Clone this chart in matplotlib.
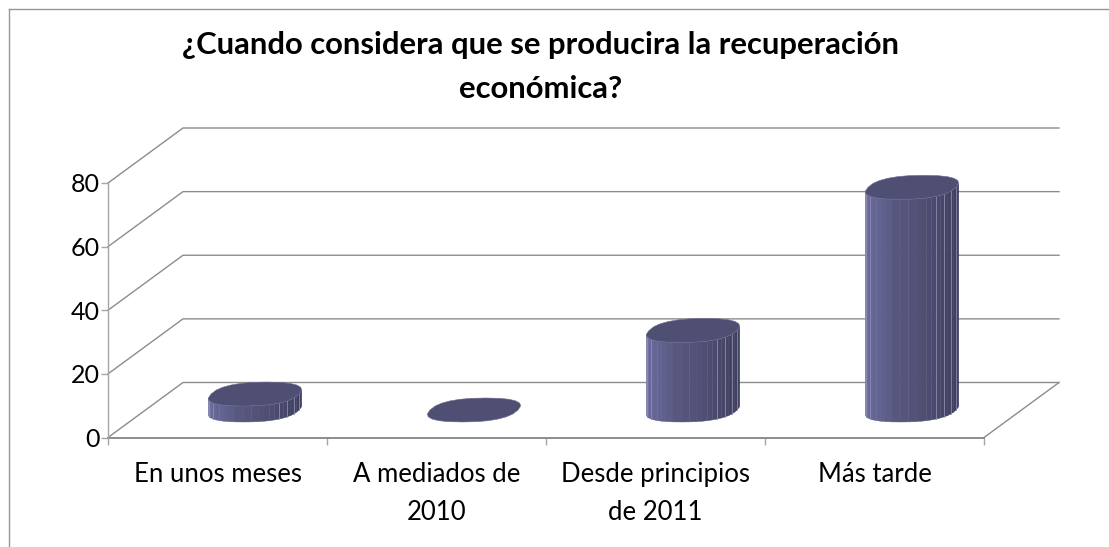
import numpy as np
import matplotlib
matplotlib.use('Agg')
import matplotlib.pyplot as plt
from matplotlib.colors import LinearSegmentedColormap
from matplotlib.patches import Polygon

plt.rcParams['font.family'] = ['Lato', 'DejaVu Sans']

title = '¿Cuando considera que se producira la recuperación\neconómica?'
categories = ['En unos meses', 'A mediados de\n2010', 'Desde principios\nde 2011', 'Más tarde']
values = [5, 0, 25, 70]
y_ticks = [0, 20, 40, 60, 80]

W, H = 1109, 547
fig = plt.figure(figsize=(W / 100, H / 100), dpi=100)
fig.patch.set_facecolor('white')

# front plane of the fake 3d box, pixels from the top left
left, right, top, bottom = 108, 984, 183, 437.5
ax = fig.add_axes([left / W, 1 - bottom / H, (right - left) / W, (bottom - top) / H])
ax.set_xlim(0, len(categories))
ax.set_ylim(0, 80)
ax.patch.set_alpha(0)

# depth of the box in data units
px_x = (right - left) / len(categories)
px_y = (bottom - top) / 80
dep_x = 75 / px_x
dep_y = 55 / px_y

grey = '#8c8c8c'
for v in y_ticks:
    ax.plot([0, dep_x, len(categories) + dep_x], [v, v + dep_y, v + dep_y],
            color=grey, lw=1.0, clip_on=False, zorder=1)
ax.plot([len(categories), len(categories) + dep_x], [0, dep_y], color=grey, lw=1.0, clip_on=False, zorder=1)

for s in ['top', 'right']:
    ax.spines[s].set_visible(False)
ax.spines['left'].set_color('#a6a6a6')
ax.spines['bottom'].set_color(grey)
ax.spines['left'].set_linewidth(1.0)
ax.spines['bottom'].set_linewidth(1.4)
ax.spines['bottom'].set_zorder(2)

ax.set_yticks(y_ticks)
ax.tick_params(axis='y', labelsize=18, length=5, color='#a6a6a6', width=1.0, pad=1)
ax.set_xticks(range(len(categories) + 1))
ax.set_xticklabels([])
ax.tick_params(axis='x', length=5, color='#a6a6a6', width=1.0)
for i, c in enumerate(categories):
    ax.text(i + 0.5, -7.6, c, ha='center', va='top', fontsize=18.5, linespacing=1.68, clip_on=False)


def rim(t):
    # rounded, slightly boxy outline of the cylinder end
    a = 44 / px_x
    b = 0.218
    c = np.sign(np.cos(t)) * np.abs(np.cos(t)) ** 0.82
    s = np.sign(np.sin(t)) * np.abs(np.sin(t)) ** 0.82
    return a * c + b * dep_x * 0.72 * s, b * dep_y * s


# cylinders
cmap = LinearSegmentedColormap.from_list('cyl', ['#6b6b9e', '#58587f', '#4e4e72', '#3d3d5c'])
t = np.linspace(0, 2 * np.pi, 25)
for i, v in enumerate(values):
    cx = i + 0.5 + dep_x / 2
    cy = dep_y / 2
    ex, ey = rim(t)
    t0 = np.arctan2(0.218 * dep_x * 0.72, 44 / px_x)
    side = np.linspace(t0 + np.pi, t0 + 2 * np.pi, 25)
    sx, sy = rim(side)
    if v > 0:
        for k in range(len(side) - 1):
            f = (sx[k] + sx[k + 1]) / 2
            f = (f - sx.min()) / (sx.max() - sx.min())
            pts = [(cx + sx[k], cy + sy[k]), (cx + sx[k + 1], cy + sy[k + 1]),
                   (cx + sx[k + 1], cy + sy[k + 1] + v), (cx + sx[k], cy + sy[k] + v)]
            ax.add_patch(Polygon(pts, closed=True, fc=cmap(f), ec=cmap(f), lw=0.3, zorder=3, clip_on=False))
            if k % 2 == 0 and (f < 0.14 or f > 0.7):
                ax.plot([cx + sx[k], cx + sx[k]], [cy + sy[k], cy + sy[k] + v], color='#8f8fb5',
                        lw=0.7, alpha=0.8, zorder=3.5, clip_on=False)
    ax.add_patch(Polygon(np.column_stack([cx + ex, cy + ey + v]), closed=True, fc='#4f4f73', ec='#6a6a90',
                         lw=0.4, zorder=4, clip_on=False))

fig.text(541 / W, 1 - 98 / H, title, ha='center', va='baseline', fontsize=22.3, fontweight='bold',
         linespacing=1.68, multialignment='center')

# outer chart border
fig.add_artist(plt.Line2D([8.5 / W, 8.5 / W], [0, 1 - 8.5 / H], color='#969696', lw=1.0))
fig.add_artist(plt.Line2D([8.5 / W, 1], [1 - 8.5 / H, 1 - 8.5 / H], color='#969696', lw=1.0))

fig.savefig('out.png', dpi=100, facecolor='white')
